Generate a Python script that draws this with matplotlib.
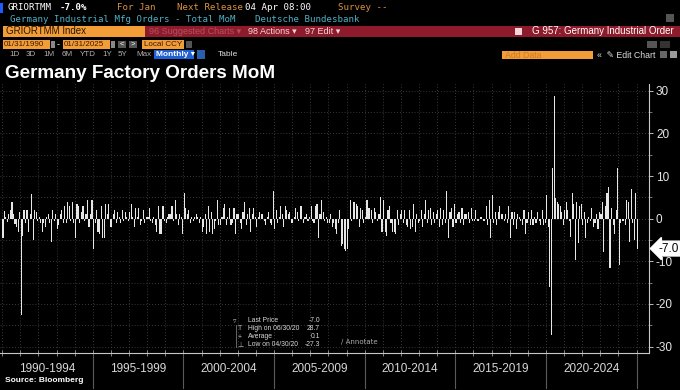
import matplotlib
matplotlib.use("Agg")
import matplotlib.pyplot as plt
import matplotlib.patches as patches
import pandas as pd

# monthly % change (Jan 1990 .. Jan 2025)
orders_1990s = [
    -4.5, 1.7, 0.5, -0.8, 1.2, 2.0, 4.0, 1.0, -1.2, -2.0, -3.0, 1.5,
    -22.5, -4.0, 2.0, -1.0, 2.0, -3.0, 1.0, 5.8, -5.0, 2.0, 1.5, -0.5,
    0.5, -1.0, -3.0, -1.0, -2.0, 0.5, 1.0, -1.0, -5.5, 2.0, -0.5, 1.0,
    -2.5, -1.5, 1.0, 2.0, -1.0, 3.0, -1.0, 4.0, 3.0, -0.5, 4.0, -1.0,
    -4.5, 3.5, 3.0, -1.0, 1.5, 3.0, -0.5, 1.0, 4.5, -2.0, 1.0, 4.5,
    -7.0, -1.0, 2.0, -3.0, -3.5, 3.0, -4.5, -4.5, 3.5, 1.0, 3.5, -2.0,
    -2.0, 1.0, 2.0, -1.0, 1.5, 0.5, -1.0, 2.0, -0.5, 1.5, 0.5, -0.5,
    1.5, 3.5, 0.5, -2.0, 2.5, 0.5, 2.5, -1.5, -0.5, 2.0, -1.0, 0.5,
    0.5, 2.5, -0.5, -1.0, 0.5, -1.5, -3.0, 3.0, -3.5, -3.5, 3.0, -0.5,
    -1.0, 0.5, 1.0, 1.0, 3.0, -0.5, 4.5, 1.0, -1.5, 1.0, 0.5, -3.5,
]
orders_2000s = [
    6.0, 2.5, 1.0, 2.0, -1.0, 0.5, -0.5, 0.5, 1.0, 0.5, -1.0, 0.5,
    -3.0, -2.0, 1.0, -3.5, 3.0, -3.0, 1.5, -3.5, -2.5, -0.5, 4.5, -1.5,
    -1.5, 0.5, 2.5, 3.5, -1.5, 0.5, 2.5, -1.5, -1.0, 2.5, -3.5, 1.0,
    1.0, -1.0, -2.5, 1.5, 4.0, -1.5, 1.0, 2.5, -3.0, 1.0, 2.5, 0.5,
    -2.0, 0.5, 1.5, 1.0, 1.0, -0.5, -1.5, 0.5, 1.5, -1.0, -1.5, 6.5,
    -2.5, 2.0, -1.0, 0.5, 3.0, 1.0, -2.0, 3.0, 2.0, 1.0, 1.5, -1.0,
    -1.0, 0.5, 2.5, 1.5, -0.5, 3.0, 3.0, -1.0, 0.5, 1.0, -0.5, 0.5,
    3.0, -0.5, -1.0, 3.0, 3.5, -4.5, 1.0, 4.5, 1.5, -0.5, 0.5, -1.0,
    -1.0, 1.0, -2.0, -1.0, -2.5, -3.5, -1.0, 2.0, -6.5, -6.0, -7.0, -7.5,
    -7.0, -2.5, 4.5, -0.5, 4.0, 4.0, 3.5, 3.0, -2.0, 2.5, 2.0, -1.0,
]
orders_2010s = [
    0.5, 4.5, 2.5, 2.5, 2.0, -1.0, 2.5, 1.5, -0.5, 1.0, 5.0, -3.0,
    4.5, -3.0, -4.0, 2.0, 3.0, -1.0, -3.0, -3.0, -3.5, 2.0, -1.5, 1.0,
    2.0, -1.0, 2.0, -1.5, -2.0, 2.0, -2.5, -2.0, 3.5, -3.0, 1.0, -1.0,
    -0.5, 2.0, -2.0, 1.0, 4.5, -1.0, 2.0, 2.5, -1.5, 1.5, -1.0, 1.0,
    2.0, -2.0, 2.5, -1.5, 2.0, -1.0, 6.5, -4.5, 1.5, 2.5, -2.0, 3.5,
    -1.0, 1.0, 1.5, -1.0, 2.5, -1.5, 1.0, 1.0, 1.5, -1.0, 2.5, -0.5,
    -0.5, 2.0, -0.5, -0.5, 0.5, 0.5, -0.5, -0.5, 3.0, -1.5, 4.5, -4.5,
    5.5, -1.0, 1.5, -1.5, 1.5, 3.0, 1.0, 1.0, -0.5, 1.0, -1.0, 3.0,
    -4.5, 1.5, -1.5, 1.5, -2.5, 1.0, 0.5, -0.5, -1.5, 2.0, -3.5, -1.0,
    1.5, -1.5, 2.0, -1.5, 0.5, -1.0, 1.5, -0.5, -1.5, 2.0, -1.5, -1.0,
]
orders_2020s = [
    5.5, -2.0, -16.0, -27.3, 12.0, 28.7, 4.8, 4.0, 3.5, 3.0, 1.5, -1.5,
    2.0, 4.0, 2.0, -0.5, -4.2, 6.0, 3.5, -9.7, 4.0, -5.7, 3.0, 3.5,
    -1.5, 1.5, -4.5, -1.0, 0.5, -0.5, 2.5, -2.0, -1.0, 1.0, -2.5, 1.5,
    1.0, 4.0, -7.7, 3.0, 6.0, 7.5, -11.6, 2.5, -1.5, -3.5, 2.0, 11.8,
    -10.8, -1.0, -0.5, -0.5, -1.5, 4.5, 4.0, -5.5, 7.0, -1.0, -5.0, 6.0,
    -7.0,
]
period_labels = ["1990-1994", "1995-1999", "2000-2004", "2005-2009",
                 "2010-2014", "2015-2019", "2020-2024"]
y_ticks = [30, 20, 10, 0, -10, -20, -30]
last_price = -7.0
legend_rows = [("Last Price", "-7.0"), ("High on 06/30/20", "28.7"),
               ("Average", "0.1"), ("Low on 04/30/20", "-27.3")]

values = orders_1990s + orders_2000s + orders_2010s + orders_2020s
dates = pd.date_range("1990-01-01", periods=len(values), freq="MS")

W, H = 680, 390
ORANGE = "#f29d38"
AMBER = "#d9923f"
TEAL = "#4fb0c6"
MONO = "DejaVu Sans Mono"
SANS = ["Liberation Sans", "DejaVu Sans"]

fig = plt.figure(figsize=(W / 100, H / 100), dpi=100, facecolor="black")


def box(x, y, w, h, color):
    fig.add_artist(patches.Rectangle((x / W, 1 - (y + h) / H), w / W, h / H,
                                     transform=fig.transFigure, facecolor=color,
                                     edgecolor="none", zorder=0))


def label(x, y, s, color="white", size=7, family=SANS, **kw):
    fig.text(x / W, 1 - y / H, s, color=color, fontsize=size, family=family,
             va="center", **kw)


# ---- terminal header ----
box(0, 3, 3, 10, "#1e5bff")
label(8, 8, "GRIORTMM", "white", 6.6, MONO)
label(60, 8, "-7.0%", "white", 6.6, MONO, weight="bold")
label(117, 8, "For Jan", AMBER, 6.6, MONO)
label(177, 8, "Next Release", AMBER, 6.6, MONO)
label(245, 8, "04 Apr 08:00", "white", 6.6, MONO)
label(338, 8, "Survey --", AMBER, 6.6, MONO)
label(10, 19, "Germany Industrial Mfg Orders - Total MoM", TEAL, 6.6, MONO)
label(255, 19, "Deutsche Bundesbank", TEAL, 6.6, MONO)
box(666, 14, 8, 8, "#555555")

box(3, 26, 142, 11, ORANGE)
label(6, 31.5, "GRIORTMM Index", "#2a1500", 7)
box(145, 26, 535, 11, "#8e1b2c")
label(149, 31.5, "96 Suggested Charts \u25be", "#b4505e", 6.5)
label(248, 31.5, "98 Actions \u25be", "#f3d7da", 6.5)
label(305, 31.5, "97 Edit \u25be", "#f3d7da", 6.5)
box(515, 28, 7, 7, "#f3d7da")
label(532, 31.5, "G 957: Germany Industrial Order", "white", 7)

for x0, txt in [(3, "01/31/1990"), (63, "01/31/2025")]:
    box(x0, 40, 47, 9, ORANGE)
    label(x0 + 1, 44.5, txt, "#3a1a00", 5.8)
    box(x0 + 48, 41, 4, 7, "#888888")
label(57, 44.5, "-", "white", 6.5)
box(118, 41, 8, 7, "#555555")
box(129, 41, 8, 7, "#555555")
label(120, 44.5, "<", "white", 5.5)
label(131, 44.5, ">", "white", 5.5)
box(142, 40, 42, 9, ORANGE)
label(144, 44.5, "Local CCY", "#3a1a00", 5.8)
box(186, 41, 6, 7, "#555555")
box(647, 41, 10, 7, "#555555")
box(660, 41, 10, 7, "#333333")

for x0, txt in [(9, "1D"), (26, "3D"), (43, "1M"), (62, "6M"), (80, "YTD"),
                (102, "1Y"), (118, "5Y"), (136, "Max")]:
    label(x0, 55, txt, "#b0b0b0", 5.8)
box(154, 50, 40, 9, "#1f5fd6")
label(156, 54.5, "Monthly \u25be", "white", 6, weight="bold")
box(197, 50, 8, 9, "#2a5fb0")
label(218, 54.5, "Table", "#dddddd", 6)
box(502, 51, 91, 8, ORANGE)
label(505, 55, "Add Data", "#cf7a20", 6.3)
label(597, 55, "\u00ab  \u270e Edit Chart", "#dddddd", 6.3)
box(660, 51, 7, 7, "#666666")
box(670, 51, 7, 7, "#999999")

label(5, 73, "Germany Factory Orders MoM", "white", 13.6, weight="bold")

# ---- chart ----
ax_top, ax_bot, ax_right = 84, 353, 649
ax = fig.add_axes([0, 1 - ax_bot / H, ax_right / W, (ax_bot - ax_top) / H])
ax.set_facecolor("black")

ax.bar(dates, values, width=22, color="#e6e6e6", linewidth=0, zorder=3)

ax.set_xlim(pd.Timestamp("1989-11-02"), pd.Timestamp("2025-08-25"))
ax.set_ylim(-31.5, 31.6)

year_starts = pd.date_range("1990-01-01", "2025-01-01", freq="YS") - pd.Timedelta(days=15)
ax.set_xticks(year_starts)
ax.set_xticklabels([])
ax.tick_params(axis="x", direction="inout", length=4, color="#9a9a9a", width=0.6)

ax.yaxis.tick_right()
ax.set_yticks(y_ticks)
ax.set_yticklabels([str(v) for v in y_ticks])
ax.set_yticks(list(range(-25, 30, 10)), minor=True)
ax.tick_params(axis="y", which="major", direction="out", length=3, width=0.7,
               color="#bbbbbb", labelcolor="#e6e6e6", labelsize=8.5, pad=2)
ax.tick_params(axis="y", which="minor", direction="out", length=2, width=0.6,
               color="#888888")
for t in ax.get_yticklabels():
    t.set_family(SANS)

ax.grid(axis="y", which="both", color="#4a4a4a", linestyle=(0, (1, 2.5)), linewidth=0.6)
ax.grid(axis="x", which="major", color="#4a4a4a", linestyle=(0, (1, 2.5)), linewidth=0.6)

for side in ["top", "left"]:
    ax.spines[side].set_visible(False)
for side in ["bottom", "right"]:
    ax.spines[side].set_color("#c8c8c8")
    ax.spines[side].set_linewidth(0.8)

# five-year separators and labels below the axis
xt = ax.get_xaxis_transform()
period_starts = pd.date_range("1990-01-01", "2025-01-01", freq="5YS") - pd.Timedelta(days=15)
for d in period_starts[1:]:
    ax.plot([d, d], [0, -0.13], color="#5a5a5a", linewidth=0.8,
            transform=xt, clip_on=False)
for i, txt in enumerate(period_labels):
    mid = period_starts[i] + (period_starts[i + 1] - period_starts[i]) / 2
    ax.text(mid, -0.06, txt, transform=xt, ha="center", va="center",
            color="#d8d8d8", fontsize=8.5, family=SANS)

# last price tag
yt = ax.get_yaxis_transform()
ax.text(1.014, last_price, "-7.0", transform=yt, ha="left", va="center",
        color="black", fontsize=8.5, family=SANS, clip_on=False,
        bbox=dict(boxstyle="larrow,pad=0.12", fc="white", ec="white"))

# legend panel
box(233, 316, 90, 33, "#181818")
fig.add_artist(plt.Line2D([236 / W, 236 / W], [1 - 325 / H, 1 - 347 / H],
                          transform=fig.transFigure, color="#777777", linewidth=0.6))
label(232.5, 321, "\u25bf", "#bbbbbb", 5, family=["DejaVu Sans"])
box(241, 318, 6, 6, "white")
for k, (name, val) in enumerate(legend_rows):
    yy = 321 + k * 8
    label(248, yy, name, "#d8d8d8", 4.9)
    label(320, yy, val, "#d8d8d8", 4.9, ha="right")
label(238, 329, "T", "#bbbbbb", 5)
label(237.5, 337, "+", "#bbbbbb", 5)
label(237.5, 345, "\u22a5", "#bbbbbb", 5, family=["DejaVu Sans"])
box(336, 336, 44, 10, "#111111")
label(341, 341, "\u2215 Annotate", "#aaaaaa", 5, family=["DejaVu Sans"])

label(5, 381, "Source: Bloomberg", "white", 6, weight="bold")

fig.savefig("out.png", dpi=100, facecolor="black")
